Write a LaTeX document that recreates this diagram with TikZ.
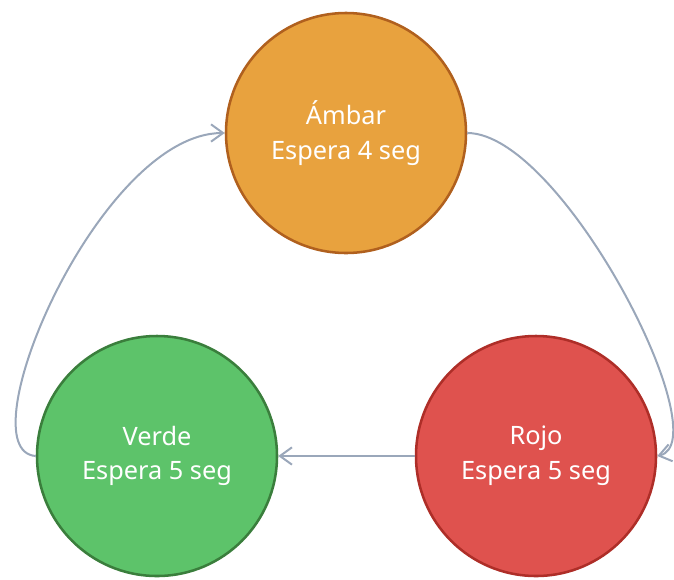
\documentclass[tikz,border=0pt]{standalone}
\usepackage{fontspec}
\setmainfont{Noto Sans}
\usetikzlibrary{arrows.meta,positioning}
\definecolor{ambarfill}{HTML}{E8A23E}
\definecolor{ambarline}{HTML}{B0601E}
\definecolor{verdefill}{HTML}{5DC36A}
\definecolor{verdeline}{HTML}{3A7E3C}
\definecolor{rojofill}{HTML}{DF524E}
\definecolor{rojoline}{HTML}{AE2E28}
\definecolor{flecha}{HTML}{9AA7BA}
\tikzset{
  estado/.style={
    circle, draw=#1line, fill=#1fill, line width=1.9pt,
    minimum size=180pt, inner sep=0pt,
    font=\fontsize{19}{26}\selectfont, text=white, align=center
  },
  transicion/.style={
    -{Straight Barb[length=9pt,width=13pt]}, line width=1.5pt, color=flecha
  },
}
\begin{document}
\begin{tikzpicture}[x=0.75pt,y=-0.75pt]
\useasboundingbox (0,0) rectangle (674,579);

% Estados del semaforo
\node[estado=ambar] (ambar) at (346,133) {Ámbar\\Espera 4 seg};
\node[estado=rojo] (rojo) at (536,456) {Rojo\\Espera 5 seg};
\node[estado=verde] (verde) at (157,456) {Verde\\Espera 5 seg};

% Transiciones
\draw[transicion] (ambar.east) .. controls +(95,0) and +(63,-15) .. (rojo.east);
\draw[transicion] (rojo.west) -- (verde.east);
\draw[transicion] (verde.west) .. controls +(-72,-5) and +(-126,0) .. (ambar.west);

\end{tikzpicture}
\end{document}
